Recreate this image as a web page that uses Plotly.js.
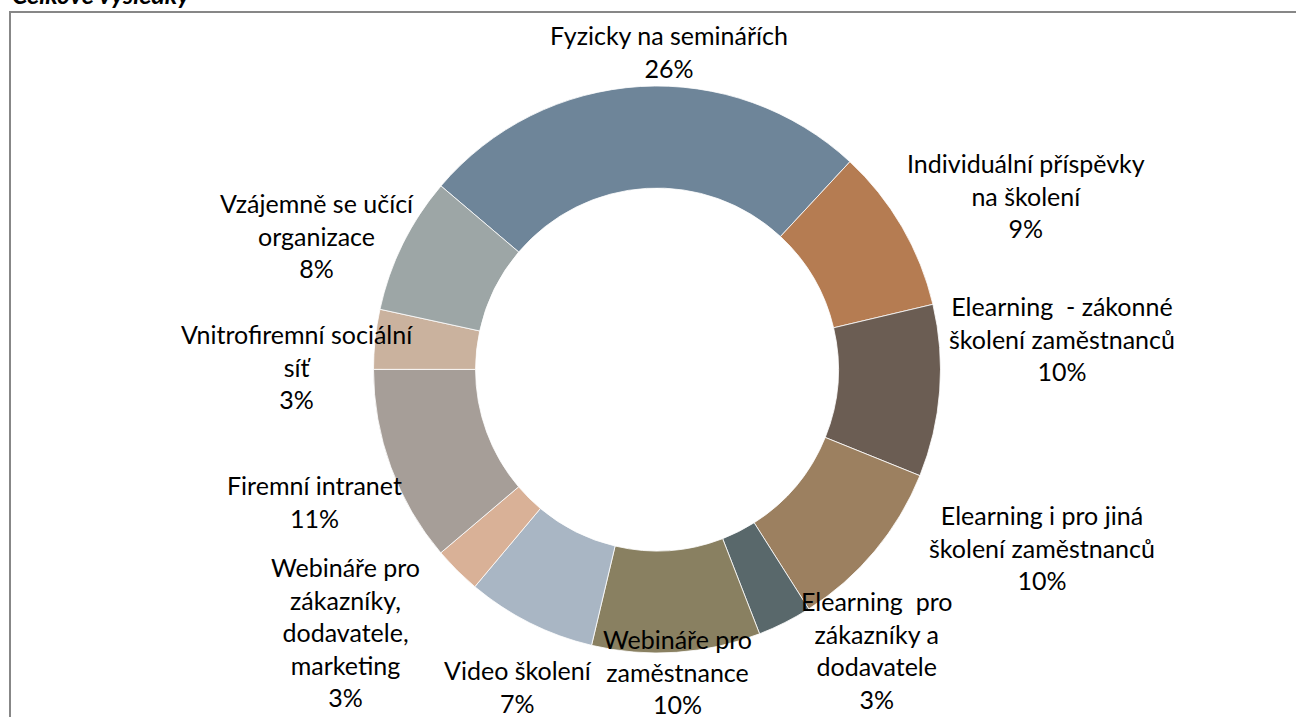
<!DOCTYPE html>
<html>
<head>
<meta charset="utf-8">
<script src="https://cdn.plot.ly/plotly-3.0.1.min.js"></script>
<style>html,body{margin:0;padding:0;background:#fff;}#chart{width:1296px;height:717px;}</style>
</head>
<body>
<div id="chart"></div>
<script>
// ---- data ----
var chartTitle = "Celkové výsledky";
var categories = [
  "Fyzicky na seminářích",
  "Individuální příspěvky na školení",
  "Elearning  - zákonné školení zaměstnanců",
  "Elearning i pro jiná školení zaměstnanců",
  "Elearning  pro zákazníky a dodavatele",
  "Webináře pro zaměstnance",
  "Video školení",
  "Webináře pro zákazníky, dodavatele, marketing",
  "Firemní intranet",
  "Vnitrofiremní sociální síť",
  "Vzájemně se učící organizace"
];
var shares = [25.7, 9.4, 9.8, 9.9, 3.1, 9.6, 7.4, 2.7, 11.2, 3.4, 7.8];
// wrapped label lines as displayed
var labelLines = [
  ["Fyzicky na seminářích"],
  ["Individuální příspěvky", "na školení"],
  ["Elearning\u00a0 - zákonné", "školení zaměstnanců"],
  ["Elearning i pro jiná", "školení zaměstnanců"],
  ["Elearning\u00a0 pro", "zákazníky a", "dodavatele"],
  ["Webináře pro", "zaměstnance"],
  ["Video školení"],
  ["Webináře pro", "zákazníky,", "dodavatele,", "marketing"],
  ["Firemní intranet"],
  ["Vnitrofiremní sociální", "síť"],
  ["Vzájemně se učící", "organizace"]
];

// ---- styles / positions ----
var colors = ["#6E8599", "#B57C52", "#6B5D53", "#9C8060", "#59686B", "#898061",
              "#A9B6C4", "#D9B197", "#A69E98", "#CAB29E", "#9DA6A6"];
// label block centres in pixels (x, y from top)
var labelPos = [
  [669, 52], [1026, 195], [1062, 338], [1042, 547], [876, 650],
  [677, 671], [518, 686], [345, 632], [314, 501], [297, 366], [317, 235]
];
var W = 1296, H = 717;
function px(x) { return x / W; }
function py(y) { return 1 - y / H; }

var annotations = labelLines.map(function (lines, i) {
  return {
    xref: "paper", yref: "paper",
    x: px(labelPos[i][0]), y: py(labelPos[i][1]),
    xanchor: "center", yanchor: "middle",
    text: lines.concat([Math.round(shares[i]) + "%"]).join("<br>"),
    showarrow: false, align: "center",
    font: {family: "Lato, 'Open Sans', sans-serif", size: 25, color: "#000"}
  };
});
annotations.push({
  xref: "paper", yref: "paper",
  x: px(10), y: py(-6), xanchor: "left", yanchor: "middle",
  text: "<b><i>" + chartTitle + "</i></b>", showarrow: false,
  font: {family: "Lato, 'Open Sans', sans-serif", size: 25, color: "#000"}
});

var trace = {
  type: "pie",
  labels: categories,
  values: shares,
  hole: 0.64,
  sort: false,
  direction: "clockwise",
  rotation: -49.65,
  textinfo: "none",
  hoverinfo: "label+percent",
  marker: {colors: colors, line: {color: "#ffffff", width: 0.8}},
  domain: {x: [px(373.5), px(940.5)], y: [py(653), py(86)]},
  showlegend: false
};

var layout = {
  width: W, height: H,
  margin: {l: 0, r: 0, t: 0, b: 0},
  paper_bgcolor: "#ffffff",
  showlegend: false,
  annotations: annotations,
  shapes: [{
    type: "rect", xref: "paper", yref: "paper",
    x0: px(10), x1: 1.02, y0: -0.02, y1: py(12),
    line: {color: "#878787", width: 2}, fillcolor: "rgba(0,0,0,0)", layer: "below"
  }]
};

Plotly.newPlot("chart", [trace], layout, {displayModeBar: false, staticPlot: true});
</script>
</body>
</html>
